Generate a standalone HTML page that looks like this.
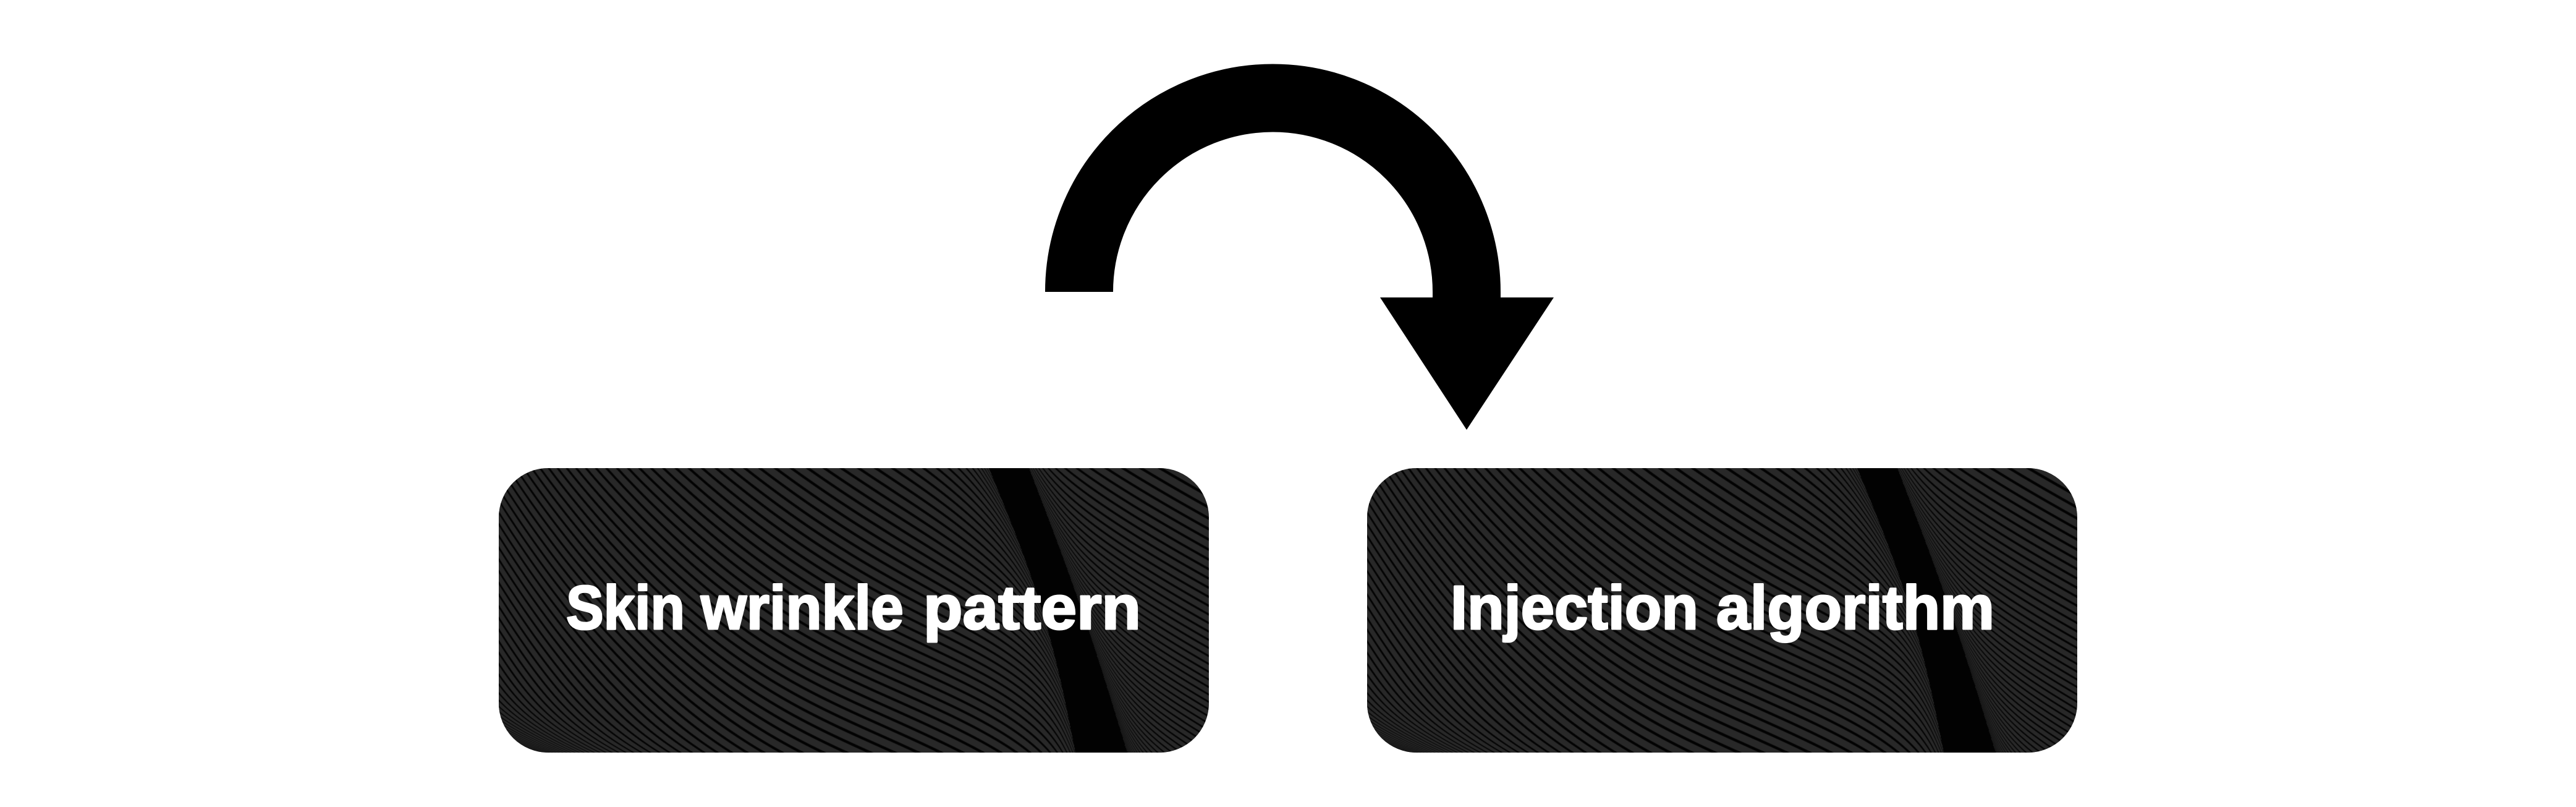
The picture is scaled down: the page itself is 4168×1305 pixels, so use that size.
<!DOCTYPE html>
<html><head><meta charset="utf-8"><style>
html,body{margin:0;padding:0;background:#fff}
body{position:relative;width:4168px;height:1305px;overflow:hidden}
canvas{position:absolute;top:757px;width:1149px;height:460px;border-radius:80px;background:#1a1a1a}
svg{position:absolute;left:0;top:0}
text{font-family:"Liberation Sans",sans-serif;font-weight:700;font-size:100px;fill:#fff;stroke:#fff;stroke-width:3px;stroke-linejoin:round}
</style></head><body>
<canvas id="a" width="1149" height="460" style="left:807px"></canvas>
<canvas id="b" width="1149" height="460" style="left:2212px"></canvas>
<svg width="4168" height="1305" viewBox="0 0 4168 1305">
<path d="M1746 472A313.5 313.5 0 0 1 2373 472V490" fill="none" stroke="#000" stroke-width="110"/>
<polygon points="2233,481 2514,481 2373,695" fill="#000"/>
<text x="916" y="1017" textLength="192" lengthAdjust="spacingAndGlyphs">Skin</text>
<text x="1134" y="1017" textLength="328" lengthAdjust="spacingAndGlyphs">wrinkle</text>
<text x="1494" y="1017" textLength="352" lengthAdjust="spacingAndGlyphs">pattern</text>
<text x="2347" y="1017" textLength="401" lengthAdjust="spacingAndGlyphs">Injection</text>
<text x="2777" y="1017" textLength="450" lengthAdjust="spacingAndGlyphs">algorithm</text>
</svg>
<script>
(function(){
var W=1149,H=460,P=19,D=0.27;
function edgeL(v){return 793+140*(v/460)+16*Math.sin(Math.PI*v/460)}
function edgeR(v){return 858+159*(v/460)+6*Math.sin(Math.PI*v/460)}
function sig(x){return 1/(1+Math.exp(-x))}
function phi(u,v){
  var L=edgeL(v),R=edgeR(v),w,S,X,s;
  if(u<(L+R)/2){
    w=Math.min(u-L,0);
    S=0.5*u-330*Math.exp(-u/300)+90*Math.exp(w/50)+48*Math.exp(w/12);
    X=80*sig((u-550)/100)*sig((v-300)/70);
    s=v-(350+0.3*u);
    if(s>120)s=120;
    X+=6.8*Math.exp(s/25);
    return v-S+X;
  }
  w=Math.max(u-R,0);
  S=0.45*w-90*Math.exp(-w/150)-60*Math.exp(-w/25)-48*Math.exp(-w/10);
  return 0.86*v+0.3*v*v/460-S*(1+0.5*v/460);
}
function I(x){var f=Math.floor(x);return f*D+Math.min(x-f,D)}
var c=document.getElementById('a').getContext('2d');
var im=c.createImageData(W,H),d=im.data,G=40,Bk=2;
for(var y=0;y<H;y++){
  var v=y+.5,L=edgeL(v),R=edgeR(v);
  for(var x=0;x<W;x++){
    var u=x+.5,val,i=(y*W+x)*4;
    if(u>=L&&u<=R){val=Bk}
    else{
      var p=phi(u,v),px=phi(u+.5,v)-phi(u-.5,v),py=phi(u,v+.5)-phi(u,v-.5);
      var g=Math.max(Math.sqrt(px*px+py*py)/P,0.05);
      var t=p/P;
      var black=(I(t+g/2)-I(t-g/2))/g;
      if(g>.4)black=Math.min(1,black+(g-.4)*.7);
      val=Bk+(G-Bk)*(1-black);
    }
    d[i]=d[i+1]=d[i+2]=val;d[i+3]=255;
  }
}
c.putImageData(im,0,0);
document.getElementById('b').getContext('2d').putImageData(im,0,0);
})();
</script>
</body></html>
